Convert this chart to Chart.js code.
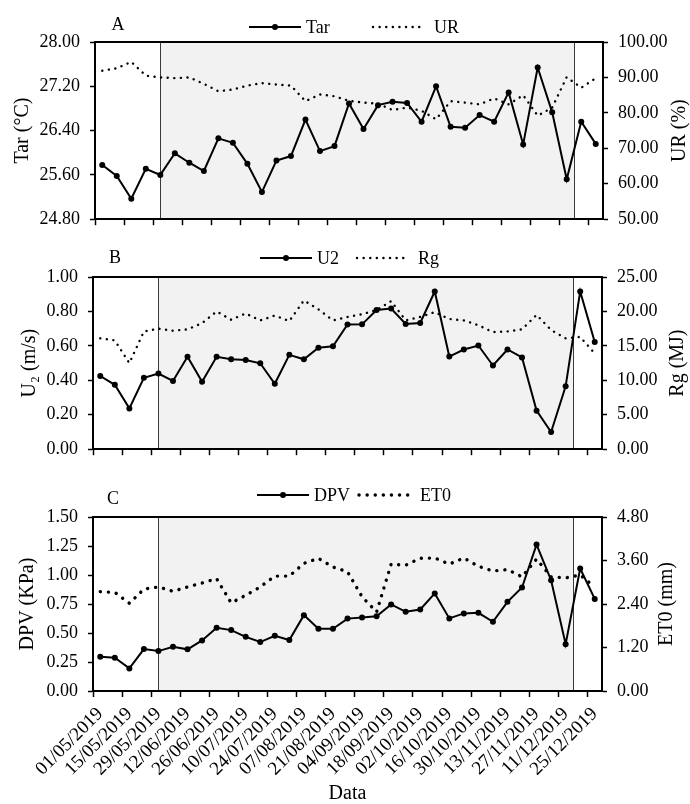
<!DOCTYPE html>
<html>
<head>
<meta charset="utf-8">
<script src="https://cdn.jsdelivr.net/npm/chart.js@4.4.0/dist/chart.umd.min.js"></script>
<style>
  body { margin: 0; background: #fff; }
  #wrap { position: relative; width: 690px; height: 804px; }
  canvas { position: absolute; left: 0; }
</style>
</head>
<body>
<div id="wrap">
  <canvas id="chartA" width="690" height="240" style="top:0px"></canvas>
  <canvas id="chartB" width="690" height="230" style="top:240px"></canvas>
  <canvas id="chartC" width="690" height="334" style="top:470px"></canvas>
</div>
<script>
// Weekly sampling dates (labels shown every two weeks)
const dates = [
  '01/05/2019', '08/05/2019', '15/05/2019', '22/05/2019', '29/05/2019',
  '05/06/2019', '12/06/2019', '19/06/2019', '26/06/2019', '03/07/2019',
  '10/07/2019', '17/07/2019', '24/07/2019', '31/07/2019', '07/08/2019',
  '14/08/2019', '21/08/2019', '28/08/2019', '04/09/2019', '11/09/2019',
  '18/09/2019', '25/09/2019', '02/10/2019', '09/10/2019', '16/10/2019',
  '23/10/2019', '30/10/2019', '06/11/2019', '13/11/2019', '20/11/2019',
  '27/11/2019', '04/12/2019', '11/12/2019', '18/12/2019', '25/12/2019'
];

// A: air temperature and relative humidity
const tar = [25.78, 25.58, 25.17, 25.71, 25.60, 25.99, 25.82, 25.67, 26.26, 26.18,
  25.80, 25.29, 25.86, 25.94, 26.60, 26.03, 26.12, 26.89, 26.43, 26.86,
  26.92, 26.90, 26.56, 27.20, 26.47, 26.45, 26.68, 26.56, 27.09, 26.15,
  27.54, 26.73, 25.52, 26.56, 26.16];
const ur = [91.9, 92.6, 94.4, 90.5, 90.0, 89.8, 90.0, 88.2, 86.1, 86.6,
  87.7, 88.4, 88.0, 87.7, 83.3, 85.2, 84.7, 83.4, 82.9, 82.6,
  80.8, 81.5, 80.6, 78.2, 83.3, 82.9, 82.4, 84.1, 82.4, 85.0,
  79.2, 81.5, 90.1, 87.1, 89.8];

// B: wind speed and global radiation
const u2 = [0.425, 0.374, 0.237, 0.415, 0.439, 0.396, 0.537, 0.391, 0.537, 0.523,
  0.518, 0.499, 0.380, 0.548, 0.522, 0.589, 0.598, 0.724, 0.725, 0.808,
  0.817, 0.727, 0.733, 0.916, 0.538, 0.579, 0.602, 0.486, 0.579, 0.533,
  0.224, 0.100, 0.365, 0.916, 0.623];
const rg = [16.1, 15.8, 12.5, 17.1, 17.5, 17.2, 17.4, 18.3, 20.0, 18.8,
  19.7, 18.7, 19.4, 18.6, 21.6, 20.3, 18.7, 19.2, 19.6, 20.2,
  21.5, 18.7, 19.2, 19.9, 18.9, 18.7, 18.0, 17.0, 17.1, 17.4,
  19.5, 17.3, 16.1, 16.3, 13.9];

// C: vapour pressure deficit and reference evapotranspiration
const dpv = [0.295, 0.287, 0.195, 0.361, 0.344, 0.381, 0.359, 0.436, 0.545, 0.525,
  0.467, 0.422, 0.476, 0.439, 0.654, 0.536, 0.536, 0.624, 0.634, 0.645,
  0.746, 0.683, 0.703, 0.841, 0.626, 0.669, 0.674, 0.597, 0.769, 0.892,
  1.262, 0.955, 0.404, 1.056, 0.794];
const et0 = [2.74, 2.72, 2.42, 2.81, 2.87, 2.75, 2.87, 2.98, 3.10, 2.43,
  2.64, 2.87, 3.17, 3.17, 3.52, 3.66, 3.42, 3.29, 2.60, 2.18,
  3.50, 3.47, 3.66, 3.67, 3.50, 3.67, 3.44, 3.31, 3.35, 3.15,
  3.64, 3.15, 3.12, 3.20, 2.87];

// Axis ticks
const tarTicks = [24.8, 25.6, 26.4, 27.2, 28.0];
const urTicks = [50, 60, 70, 80, 90, 100];
const u2Ticks = [0, 0.2, 0.4, 0.6, 0.8, 1.0];
const rgTicks = [0, 5, 10, 15, 20, 25];
const dpvTicks = [0, 0.25, 0.5, 0.75, 1.0, 1.25, 1.5];
const et0Ticks = [0, 1.2, 2.4, 3.6, 4.8];

// Shaded period (category index range)
const shadeRange = [4, 32.5];

const FONT = "'Liberation Serif', 'Times New Roman', serif";

const decorPlugin = {
  id: 'decor',
  beforeDraw(chart, args, o) {
    const { ctx, chartArea: a } = chart;
    const x = chart.scales.x;
    const x0 = x.getPixelForValue(shadeRange[0]);
    const x1 = x.getPixelForValue(shadeRange[1]);
    ctx.save();
    ctx.fillStyle = '#f2f2f2';
    ctx.fillRect(x0, a.top, x1 - x0, a.bottom - a.top);
    ctx.strokeStyle = '#3a3a3a';
    ctx.lineWidth = 1;
    ctx.beginPath();
    [x0, x1].forEach(px => {
      ctx.moveTo(Math.round(px) + 0.5, a.top);
      ctx.lineTo(Math.round(px) + 0.5, a.bottom);
    });
    ctx.stroke();
    ctx.restore();
  },
  afterDraw(chart, args, o) {
    const { ctx, chartArea: a } = chart;
    const ds = chart.data.datasets;
    ctx.save();
    // top frame
    ctx.strokeStyle = '#000';
    ctx.lineWidth = 2;
    ctx.beginPath();
    ctx.moveTo(a.left - 1, a.top);
    ctx.lineTo(a.right + 1, a.top);
    ctx.stroke();

    // panel letter
    ctx.fillStyle = '#000';
    ctx.font = `18px ${FONT}`;
    ctx.textAlign = 'center';
    ctx.textBaseline = 'middle';
    ctx.fillText(o.letter, o.letterX, o.letterY);

    // legend
    const ly = o.legendY;
    const [sx1, sx2] = o.legendX;
    ctx.lineWidth = 2;
    ctx.beginPath();
    ctx.moveTo(sx1, ly);
    ctx.lineTo(sx1 + 52, ly);
    ctx.stroke();
    ctx.beginPath();
    ctx.arc(sx1 + 26, ly, 3, 0, Math.PI * 2);
    ctx.fill();
    ctx.textAlign = 'left';
    ctx.fillText(ds[0].label, sx1 + 57, ly + 1);
    ctx.lineWidth = ds[1].borderWidth;
    ctx.lineCap = 'round';
    ctx.setLineDash(ds[1].borderDash);
    ctx.beginPath();
    ctx.moveTo(sx2, ly);
    ctx.lineTo(sx2 + 50, ly);
    ctx.stroke();
    ctx.setLineDash([]);
    ctx.fillText(ds[1].label, sx2 + 61, ly + 1);

    // right axis title, reading bottom to top
    ctx.translate(o.rightTitleX, (a.top + a.bottom) / 2);
    ctx.rotate(-Math.PI / 2);
    ctx.textAlign = 'center';
    ctx.font = `20px ${FONT}`;
    ctx.fillText(o.rightTitle, 0, 0);
    ctx.restore();
  }
};

function makePanel(p) {
  const tickFont = { family: FONT, size: 18 };
  const titleFont = { family: FONT, size: 20 };
  return new Chart(document.getElementById(p.id), {
    type: 'line',
    data: {
      labels: dates,
      datasets: [{
        label: p.solidLabel,
        data: p.solid,
        yAxisID: 'y',
        borderColor: '#000',
        backgroundColor: '#000',
        borderWidth: 2,
        pointRadius: 3,
        pointBorderWidth: 0,
        pointBackgroundColor: '#000',
        tension: 0
      }, {
        label: p.dottedLabel,
        data: p.dotted,
        yAxisID: 'y1',
        borderColor: '#000',
        borderWidth: p.dotWidth,
        borderDash: p.dotDash,
        borderCapStyle: 'round',
        pointRadius: 0,
        tension: 0
      }]
    },
    options: {
      responsive: false,
      devicePixelRatio: 1,
      animation: false,
      layout: { padding: { top: p.top, left: 0, right: 0, bottom: 0 } },
      plugins: {
        legend: { display: false },
        tooltip: { enabled: false },
        decor: p.decor
      },
      scales: {
        x: {
          type: 'category',
          offset: true,
          grid: {
            offset: true,
            drawOnChartArea: false,
            tickLength: 6,
            tickWidth: 1.5,
            tickColor: c => (c.index % 2 === 0 ? '#000' : 'rgba(0,0,0,0)')
          },
          border: { color: '#000', width: 2 },
          ticks: {
            autoSkip: false,
            maxRotation: 45,
            minRotation: 45,
            padding: 6,
            color: '#000',
            font: { family: FONT, size: 19 },
            callback: (v, i) => (p.showDates && i % 2 === 0 ? dates[i] : '')
          },
          title: {
            display: p.showDates,
            text: 'Data',
            color: '#000',
            font: { family: FONT, size: 20, lineHeight: 1 },
            padding: { top: 0, bottom: 0 }
          },
          afterFit: s => { s.height = p.xHeight; }
        },
        y: {
          position: 'left',
          min: p.leftTicks[0],
          max: p.leftTicks[p.leftTicks.length - 1],
          afterBuildTicks: s => { s.ticks = p.leftTicks.map(v => ({ value: v })); },
          ticks: { color: '#000', font: tickFont, padding: 10, callback: v => Number(v).toFixed(2) },
          grid: { drawOnChartArea: false, tickLength: 5, tickWidth: 1.5, tickColor: '#000' },
          border: { color: '#000', width: 2 },
          title: {
            display: true,
            text: p.leftTitle,
            color: '#000',
            font: titleFont,
            padding: { top: p.leftTitlePad, bottom: 0 }
          },
          afterFit: s => { s.width = p.leftW; }
        },
        y1: {
          position: 'right',
          min: p.rightTicks[0],
          max: p.rightTicks[p.rightTicks.length - 1],
          afterBuildTicks: s => { s.ticks = p.rightTicks.map(v => ({ value: v })); },
          ticks: { color: '#000', font: tickFont, padding: 10, callback: v => Number(v).toFixed(2) },
          grid: { drawOnChartArea: false, tickLength: 5, tickWidth: 1.5, tickColor: '#000' },
          border: { color: '#000', width: 2 },
          afterFit: s => { s.width = p.rightW; }
        }
      }
    },
    plugins: [decorPlugin]
  });
}

makePanel({
  id: 'chartA', solid: tar, dotted: ur, solidLabel: 'Tar', dottedLabel: 'UR',
  leftTicks: tarTicks, rightTicks: urTicks, leftTitle: 'Tar (°C)', leftTitlePad: 11,
  dotWidth: 2.4, dotDash: [0.1, 6.5],
  top: 42, xHeight: 18, leftW: 95, rightW: 87, showDates: false,
  decor: { letter: 'A', letterX: 118, letterY: 25, legendY: 27, legendX: [249, 373], rightTitle: 'UR (%)', rightTitleX: 680 }
});

makePanel({
  id: 'chartB', solid: u2, dotted: rg, solidLabel: 'U2', dottedLabel: 'Rg',
  leftTicks: u2Ticks, rightTicks: rgTicks, leftTitle: 'U\u2082 (m/s)', leftTitlePad: 18,
  dotWidth: 2.4, dotDash: [0.1, 6.5],
  top: 37, xHeight: 15, leftW: 93, rightW: 88, showDates: false,
  decor: { letter: 'B', letterX: 115, letterY: 18, legendY: 18, legendX: [260, 357], rightTitle: 'Rg (MJ)', rightTitleX: 678 }
});

makePanel({
  id: 'chartC', solid: dpv, dotted: et0, solidLabel: 'DPV', dottedLabel: 'ET0',
  leftTicks: dpvTicks, rightTicks: et0Ticks, leftTitle: 'DPV (KPa)', leftTitlePad: 16,
  dotWidth: 3.4, dotDash: [0.1, 8],
  top: 47, xHeight: 113, leftW: 93, rightW: 88, showDates: true,
  decor: { letter: 'C', letterX: 113, letterY: 29, legendY: 25, legendX: [257, 359], rightTitle: 'ET0 (mm)', rightTitleX: 667 }
});
</script>
</body>
</html>
